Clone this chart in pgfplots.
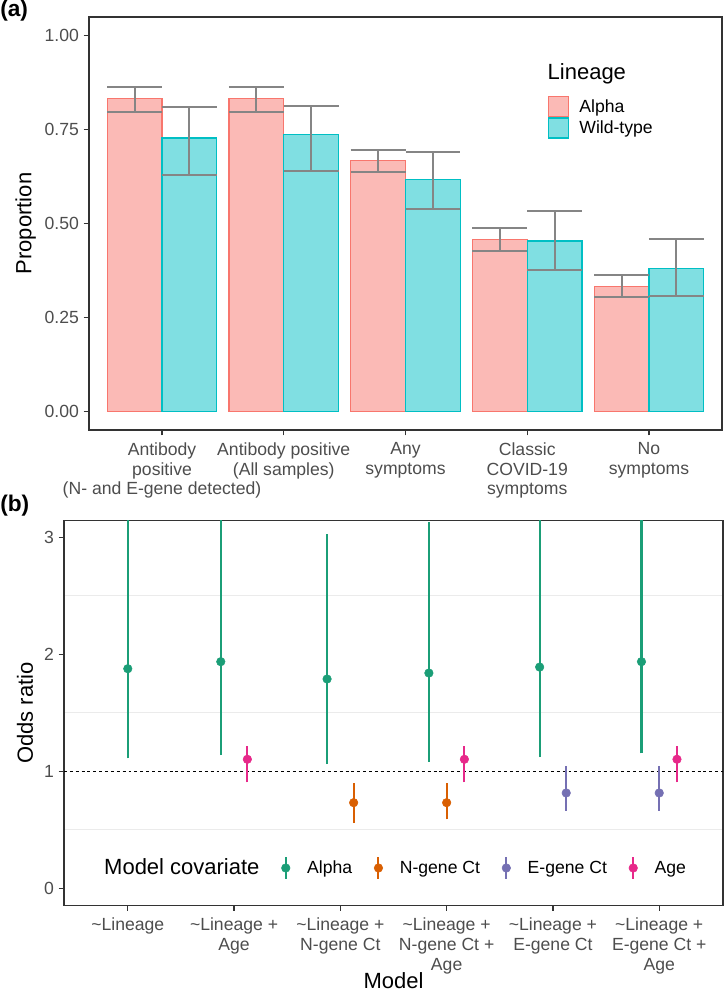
\documentclass[border=0pt]{standalone}
\usepackage{fontspec}
\setmainfont{Liberation Sans}
\usepackage{pgfplots}
\pgfplotsset{compat=1.18}
\usepackage{pgfplotstable}

\definecolor{alphaLine}{HTML}{F8766D}
\definecolor{alphaFill}{HTML}{FBBAB6}
\definecolor{wtLine}{HTML}{00BFC4}
\definecolor{wtFill}{HTML}{80DFE2}
\definecolor{errgray}{HTML}{858585}
\definecolor{gray20}{HTML}{333333}
\definecolor{gray30}{HTML}{4D4D4D}
\definecolor{gray92}{HTML}{EBEBEB}
\definecolor{dgreen}{HTML}{1B9E77}
\definecolor{dorange}{HTML}{D95F02}
\definecolor{dpurple}{HTML}{7570B3}
\definecolor{dpink}{HTML}{E7298A}

\pgfplotstableread{
x val lo hi
1 0.833 0.797 0.864
2 0.833 0.798 0.863
3 0.668 0.637 0.695
4 0.457 0.426 0.488
5 0.332 0.303 0.363
}\alphatab

\pgfplotstableread{
x val lo hi
1 0.728 0.629 0.809
2 0.737 0.639 0.814
3 0.618 0.539 0.691
4 0.453 0.376 0.532
5 0.380 0.308 0.460
}\wttab

\pgfplotstableread{
x y lo hi
1.000 1.877 1.111 3.5
1.875 1.937 1.139 3.5
2.875 1.789 1.062 3.031
3.833 1.840 1.082 3.128
4.875 1.891 1.122 3.5
5.833 1.937 1.154 3.5
}\alphaor

\pgfplotstableread{
x y lo hi
3.125 0.732 0.558 0.903
4.000 0.732 0.590 0.903
}\ngeneor

\pgfplotstableread{
x y lo hi
5.125 0.815 0.661 1.048
6.000 0.815 0.661 1.048
}\egeneor

\pgfplotstableread{
x y lo hi
2.125 1.103 0.906 1.216
4.167 1.103 0.906 1.216
6.167 1.103 0.906 1.216
}\ageor

\pgfplotsset{
  ggstyle/.style={
    scale only axis,
    axis line style={draw=gray20, line width=0.9pt},
    tick style={draw=gray20, line width=0.9pt},
    tick align=outside, tick pos=left,
    major tick length=4pt,
    ticklabel style={font=\fontsize{13.2}{14.8}\selectfont, text=gray30},
    label style={font=\fontsize{16.5}{18}\selectfont},
  },
  barleg/.style 2 args={legend image code/.code={\filldraw[draw=#1, fill=#2, line width=1pt] (0pt,-7.5pt) rectangle (15pt,7.5pt);}},
  ptleg/.style={legend image code/.code={\draw[draw=#1, line width=1.5pt] (0pt,-8pt) -- (0pt,8pt); \fill[#1] (0pt,0pt) circle (3.2pt);}},
  ptplot/.style={color=#1, only marks, mark=*, mark size=3.2pt, mark options={draw=none, fill=#1}},
  segplot/.style={forget plot, draw=#1, line width=1.6pt, mark=none, unbounded coords=jump},
}

\begin{document}
\begin{tikzpicture}
\path[use as bounding box] (0,0) rectangle (543.75pt,746.25pt);

\node[anchor=west, inner sep=0pt, font=\fontsize{17}{19}\selectfont\bfseries] at (0pt,738pt) {(a)};
\node[anchor=west, inner sep=0pt, font=\fontsize{17}{19}\selectfont\bfseries] at (0pt,367pt) {(b)};

% ---------------- panel (a)
\begin{axis}[ggstyle,
  at={(66.75pt,423.75pt)}, anchor=south west,
  width=474.75pt, height=309.75pt,
  xmin=0.4, xmax=5.6, ymin=-0.05, ymax=1.05,
  xtick={1,2,3,4,5},
  xticklabels={{Antibody\\positive\\(N- and E-gene detected)},{Antibody positive\\(All samples)},{Any\\symptoms},{Classic\\COVID-19\\symptoms},{No\\symptoms}},
  xticklabel style={align=center, yshift=-2pt},
  ytick={0,0.25,0.5,0.75,1},
  yticklabels={0.00,0.25,0.50,0.75,1.00},
  ylabel={Proportion},
  ylabel style={at={(axis description cs:-0.1,0.5)}, anchor=center},
  legend style={at={(axis description cs:0.7242,0.8094)}, anchor=north west,
    draw=none, fill=none, inner sep=0pt, row sep=0pt,
    nodes={inner sep=0pt},
    font=\fontsize{13.2}{14.8}\selectfont,
    /tikz/every odd column/.append style={column sep=7.8pt}},
  legend cell align=left,
]
\addplot[ybar, bar width=0.45, bar shift=-0.225, draw=alphaLine, fill=alphaFill, line width=1pt,
  barleg={alphaLine}{alphaFill}] table[x=x, y=val] {\alphatab};
\addlegendentry{Alpha}
\addplot[ybar, bar width=0.45, bar shift=0.225, draw=wtLine, fill=wtFill, line width=1pt,
  barleg={wtLine}{wtFill}] table[x=x, y=val] {\wttab};
\addlegendentry{Wild-type}

\addplot[forget plot, draw=none, mark=none,
  error bars/.cd, y dir=both, y explicit, error mark=|,
  error bar style={draw=errgray, line width=1.5pt},
  error mark options={draw=errgray, line width=1.5pt, mark size=20.54pt}]
  table[x expr=\thisrow{x}-0.225, y=val,
        y error plus expr=\thisrow{hi}-\thisrow{val},
        y error minus expr=\thisrow{val}-\thisrow{lo}] {\alphatab};
\addplot[forget plot, draw=none, mark=none,
  error bars/.cd, y dir=both, y explicit, error mark=|,
  error bar style={draw=errgray, line width=1.5pt},
  error mark options={draw=errgray, line width=1.5pt, mark size=20.54pt}]
  table[x expr=\thisrow{x}+0.225, y=val,
        y error plus expr=\thisrow{hi}-\thisrow{val},
        y error minus expr=\thisrow{val}-\thisrow{lo}] {\wttab};

\node[anchor=west, inner sep=0pt, font=\fontsize{16.5}{18}\selectfont] at (axis description cs:0.7242,0.862) {Lineage};
\end{axis}

% ---------------- panel (b)
\begin{axis}[ggstyle,
  at={(48pt,67.275pt)}, anchor=south west,
  width=494.25pt, height=288.45pt,
  xmin=0.4, xmax=6.6, ymin=-0.145, ymax=3.142,
  xtick={1,2,3,4,5,6},
  xticklabels={{\textasciitilde Lineage},{\textasciitilde Lineage +\\Age},{\textasciitilde Lineage +\\N-gene Ct},{\textasciitilde Lineage +\\N-gene Ct +\\Age},{\textasciitilde Lineage +\\E-gene Ct},{\textasciitilde Lineage +\\E-gene Ct +\\Age}},
  xticklabel style={align=center, yshift=-2pt},
  ytick={0,1,2,3}, yticklabels={0,1,2,3},
  minor ytick={0.5,1.5,2.5},
  yminorgrids=true, minor grid style={draw=gray92, line width=0.8pt},
  minor tick length=0pt,
  xlabel={Model}, ylabel={Odds ratio},
  xlabel style={at={(axis description cs:0.5,-0.196)}, anchor=center},
  ylabel style={at={(axis description cs:-0.059,0.5)}, anchor=center},
  legend style={at={(axis description cs:0.035,0.097)}, anchor=west,
    draw=none, fill=none, inner sep=0pt, column sep=0pt,
    nodes={inner sep=0pt},
    font=\fontsize{13.2}{14.8}\selectfont,
    /tikz/every odd column/.append style={column sep=12.65pt},
    /tikz/every even column/.append style={column sep=16.3pt}},
  legend columns=-1,
]
\addlegendimage{empty legend}
\addlegendentry{\fontsize{16.5}{18}\selectfont Model covariate}

\addplot[forget plot, black, line width=0.6pt, dash pattern=on 2.2pt off 2.2pt] coordinates {(0.4,1) (6.6,1)};

% interval lines (lower, upper) for each estimate
\addplot[segplot=dgreen] coordinates {
  (1.000,1.111) (1.000,3.5) (1.000,nan)
  (1.875,1.139) (1.875,3.5) (1.875,nan)
  (2.875,1.062) (2.875,3.031) (2.875,nan)
  (3.833,1.082) (3.833,3.128) (3.833,nan)
  (4.875,1.122) (4.875,3.5) (4.875,nan)
  (5.833,1.154) (5.833,3.5)};
\addplot[segplot=dorange] coordinates {
  (3.125,0.558) (3.125,0.903) (3.125,nan)
  (4.000,0.590) (4.000,0.903)};
\addplot[segplot=dpurple] coordinates {
  (5.125,0.661) (5.125,1.048) (5.125,nan)
  (6.000,0.661) (6.000,1.048)};
\addplot[segplot=dpink] coordinates {
  (2.125,0.906) (2.125,1.216) (2.125,nan)
  (4.167,0.906) (4.167,1.216) (4.167,nan)
  (6.167,0.906) (6.167,1.216)};

\addplot[ptleg=dgreen, ptplot=dgreen] table[x=x, y=y] {\alphaor};
\addlegendentry{Alpha}
\addplot[ptleg=dorange, ptplot=dorange] table[x=x, y=y] {\ngeneor};
\addlegendentry{N-gene Ct}
\addplot[ptleg=dpurple, ptplot=dpurple] table[x=x, y=y] {\egeneor};
\addlegendentry{E-gene Ct}
\addplot[ptleg=dpink, ptplot=dpink] table[x=x, y=y] {\ageor};
\addlegendentry{Age}
\end{axis}
\end{tikzpicture}
\end{document}
